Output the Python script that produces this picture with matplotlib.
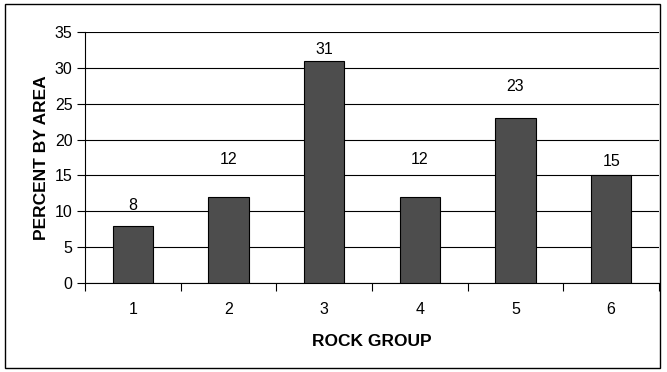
import matplotlib.pyplot as plt
from matplotlib.patches import Rectangle

# Percent of area per rock group
groups = ["1", "2", "3", "4", "5", "6"]
percent = [8, 12, 31, 12, 23, 15]
# height (in data units) where each value label sits
label_y = [10.8, 17.2, 32.6, 17.2, 27.4, 16.9]

plt.rcParams['font.family'] = ['Liberation Sans', 'DejaVu Sans']

fig = plt.figure(figsize=(6.67, 3.72), dpi=100)
ax = fig.add_axes([85 / 667, 1 - 283 / 372, 574 / 667, 251 / 372])

# frame round the whole chart
fig.patches.append(Rectangle((5 / 667, 1 - 368 / 372), 655 / 667, 364 / 372,
                             transform=fig.transFigure, fill=False,
                             edgecolor='black', linewidth=1))

pos = range(len(groups))
ax.bar(pos, percent, width=0.42, color='#4d4d4d', edgecolor='black',
       linewidth=0.8, zorder=3)
for i, v in enumerate(percent):
    ax.text(i, label_y[i], str(v), ha='center', va='center', fontsize=11.5)

ax.set_xlim(-0.5, len(groups) - 0.5)
ax.set_ylim(0, 35)
ax.set_yticks(range(0, 36, 5))
ax.set_xticks(list(pos))
ax.set_xticklabels(groups)
ax.set_xticks([i - 0.5 for i in range(len(groups) + 1)], minor=True)
ax.tick_params(axis='x', which='major', length=0, pad=14, labelsize=11.5)
ax.tick_params(axis='x', which='minor', length=6, direction='out', width=0.8)
ax.tick_params(axis='y', length=6, direction='out', width=0.8, labelsize=11.5, pad=3)

ax.grid(axis='y', color='black', linewidth=0.8, zorder=0)
for s in ['top', 'right']:
    ax.spines[s].set_visible(False)
ax.spines['left'].set_linewidth(0.8)
ax.spines['bottom'].set_linewidth(0.8)

ax.set_xlabel("ROCK GROUP", fontsize=12.5, fontweight='bold', labelpad=12)
ax.set_ylabel("PERCENT BY AREA", fontsize=12.5, fontweight='bold', labelpad=4)

plt.savefig("out.png", dpi=100)
